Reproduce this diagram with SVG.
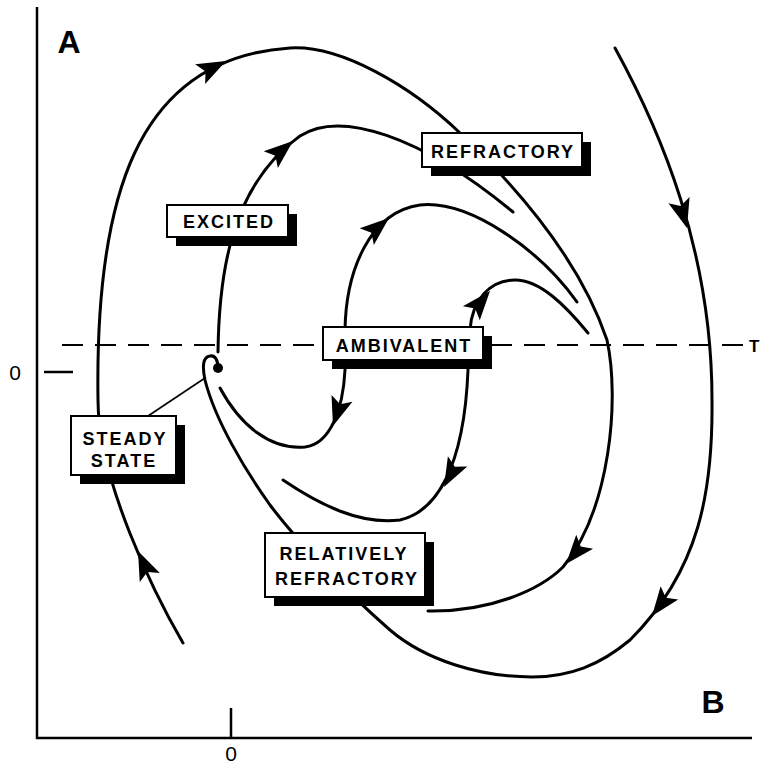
<svg xmlns="http://www.w3.org/2000/svg" xmlns:xlink="http://www.w3.org/1999/xlink" width="762" height="766" viewBox="0 0 762 766">
<style>
.curve{fill:none;stroke:#000;stroke-width:3;stroke-linecap:round;stroke-linejoin:round}
.axis{fill:none;stroke:#000;stroke-width:2.5}
.thin{fill:none;stroke:#000;stroke-width:1.6}
.dash{fill:none;stroke:#000;stroke-width:2;stroke-dasharray:21 12}
.box{fill:#fff;stroke:#000;stroke-width:2}
.shadow{fill:#000}
.lbl{font-family:"Liberation Sans",Arial,sans-serif;font-weight:bold;font-size:18px;letter-spacing:2px;text-anchor:middle;fill:#000}
.ax{font-family:"Liberation Sans",Arial,sans-serif;font-weight:bold;font-size:32px;text-anchor:middle;fill:#000}
.num{font-family:"Liberation Sans",Arial,sans-serif;font-size:21px;text-anchor:middle;fill:#000}
</style>
<defs>
<path id="ah" d="M0,0 L-29,-11 L-23,0 L-29,11 Z" fill="#000"/>
</defs>
<rect width="762" height="766" fill="#fff"/>
<g id="axes">
<path class="axis" d="M37,7 V738 H752"/>
<path class="axis" d="M231,708 V738"/>
<path class="axis" d="M44,372 H73"/>
<text class="ax" x="69" y="53">A</text>
<text class="ax" x="713" y="713">B</text>
<text class="num" x="231" y="761">0</text>
<text class="num" x="15" y="380">0</text>
</g>
<g id="threshold">
<path class="dash" d="M62,345 H748"/>
<text x="749" y="352" style="font-family:'Liberation Sans',Arial,sans-serif;font-weight:bold;font-size:17px;fill:#000">T</text>
</g>
<g id="connectors">
<path id="c1" class="curve" d="M183,643 C155,595 98,480 98,400 C95,200 135,58 290,48 C340,45 410,85 460,133 C520,190 580,260 607,340 C620,400 610,510 563,567 C540,590 490,612 428,611"/>
<path id="c2" class="curve" d="M218,352 C219,270 232,185 300,136 C340,110 420,135 513,212"/>
<path id="c3" class="curve" d="M220,388 C240,425 270,450 305,447 C330,444 343,410 345,370 L345,330 C346,270 370,212 420,205 C470,200 540,250 577,302"/>
<path id="c4" class="curve" d="M283,480 C320,505 360,525 400,520 C435,512 464,470 468,370 L470,330 C472,300 490,280 515,280 C540,280 565,305 588,333"/>
<path id="c5" class="curve" d="M615,48 C660,130 712,250 712,400 C713,490 700,570 630,640 C600,665 570,677 532,677 C480,677 425,660 390,630 C350,595 300,545 270,505 C245,470 215,420 205,380 C202,366 203,357 210,356 C215,355 218,360 218,368"/>
<path class="thin" d="M148,416 L205,378"/>
<use xlink:href="#ah" transform="translate(138,551) rotate(-114)"/>
<use xlink:href="#ah" transform="translate(226,61) rotate(-27)"/>
<use xlink:href="#ah" transform="translate(293,141) rotate(-40)"/>
<use xlink:href="#ah" transform="translate(389,218) rotate(-40)"/>
<use xlink:href="#ah" transform="translate(333,426) rotate(108)"/>
<use xlink:href="#ah" transform="translate(490,291) rotate(-50)"/>
<use xlink:href="#ah" transform="translate(444,487) rotate(118)"/>
<use xlink:href="#ah" transform="translate(566,564) rotate(130)"/>
<use xlink:href="#ah" transform="translate(687,228) rotate(74)"/>
<use xlink:href="#ah" transform="translate(652,616) rotate(127)"/>
</g>
<g id="steady-dot">
<circle cx="218" cy="368" r="5" fill="#000"/>
</g>
<g id="excited">
<rect class="shadow" x="176" y="214" width="121" height="32"/>
<rect class="box" x="167" y="205" width="121" height="32"/>
<text class="lbl" x="229" y="228">EXCITED</text>
</g>
<g id="refractory">
<rect class="shadow" x="431" y="142" width="160" height="34"/>
<rect class="box" x="422" y="133" width="160" height="34"/>
<text class="lbl" x="503" y="158">REFRACTORY</text>
</g>
<g id="ambivalent">
<rect class="shadow" x="332" y="336" width="160" height="33"/>
<rect class="box" x="323" y="327" width="160" height="33"/>
<text class="lbl" x="404" y="352">AMBIVALENT</text>
</g>
<g id="relatively-refractory">
<rect class="shadow" x="274" y="542" width="160" height="64"/>
<rect class="box" x="265" y="533" width="160" height="64"/>
<text class="lbl" x="344" y="560">RELATIVELY</text>
<text class="lbl" x="347" y="585">REFRACTORY</text>
</g>
<g id="steady-state">
<rect class="shadow" x="80" y="425" width="105" height="59"/>
<rect class="box" x="71" y="416" width="105" height="59"/>
<text class="lbl" x="125" y="445">STEADY</text>
<text class="lbl" x="124" y="467">STATE</text>
</g>
</svg>
